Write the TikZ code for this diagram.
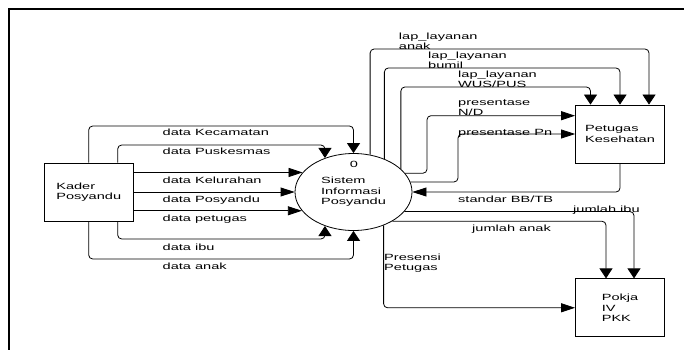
\documentclass[tikz,border=0pt]{standalone}
\usepackage{fontspec}
\setmainfont{Liberation Sans}[FakeStretch=1.62]
\usetikzlibrary{arrows.meta,positioning,shapes.geometric}
\tikzset{
  dfdbox/.style={draw,line width=0.8pt,minimum width=89pt,minimum height=58pt,inner sep=0pt,align=left},
  dfdproc/.style={draw,ellipse,line width=0.8pt,minimum width=117pt,minimum height=77pt,inner sep=0pt,align=left},
  dfdflowv/.style={-{Triangle[length=10pt,width=13pt]},line width=0.8pt,rounded corners=4pt},
  dfdflowh/.style={-{Triangle[length=14pt,width=9pt]},line width=0.8pt,rounded corners=4pt},
  dfdlabel/.style={anchor=base west,inner sep=0pt,align=left},
  dfdlabeltwo/.style={anchor=north west,inner sep=0pt,align=left},
}

\begin{document}
\begin{tikzpicture}[x=1pt,y=-1pt,font=\fontsize{9}{10.4}\selectfont]
\useasboundingbox (0,0) rectangle (687,350);
\draw[line width=1.8pt] (9,350) -- (9,9) -- (684,9);
% process and entities
\node[dfdproc] (sis) at (353.5,192) {Sistem\\Informasi\\Posyandu};
\node[inner sep=0pt] (nol) at (354,164) {0};
\node[dfdbox,left=161pt of sis] (kad) {Kader\\Posyandu};
\node[dfdbox] (pet) at (620,134) {Petugas\\Kesehatan};
\node[dfdbox,below=115pt of pet] (pok) {Pokja\\IV\\PKK};
% flows from Kader Posyandu
\draw[dfdflowv] (kad.north) |- (sis.north |- 0,126) -- (sis.north);
\draw[dfdflowv] ([xshift=29pt]kad.north) |- (sis.130 |- 0,145) -- (sis.130);
\draw[dfdflowh] (kad.east |- sis.159.5) -- (sis.159.5);
\draw[dfdflowh] (kad.east) -- (sis.west);
\draw[dfdflowh] (kad.east |- sis.200.5) -- (sis.200.5);
\draw[dfdflowv] ([xshift=29pt]kad.south) |- (sis.230 |- 0,239) -- (sis.230);
\draw[dfdflowv] (kad.south) |- (sis.south |- 0,259) -- (sis.south);
\node[dfdlabel] (lkec) at (162.5,135) {data Kecamatan};
\node[dfdlabel] (lpus) at (162.5,154) {data Puskesmas};
\node[dfdlabel] (lkel) at (162.5,183.3) {data Kelurahan};
\node[dfdlabel] (lpos) at (162.5,202.3) {data Posyandu};
\node[dfdlabel] (lpet) at (162.5,221.3) {data petugas};
\node[dfdlabel] (libu) at (162.5,250) {data ibu};
\node[dfdlabel] (lank) at (162.5,269) {data anak};
% flows to and from Petugas Kesehatan
\draw[dfdflowv] (sis.66.6) |- ([xshift=29pt]pet.north |- 0,49) -- ([xshift=29pt]pet.north);
\draw[dfdflowv] (sis.47.8) |- (pet.north |- 0,68) -- (pet.north);
\draw[dfdflowv] (sis.26.7) |- ([xshift=-29.5pt]pet.north |- 0,87) -- ([xshift=-29.5pt]pet.north);
\draw[dfdflowh] (sis.20.5) -| (427,115.7) -- (pet.west |- 0,115.7);
\draw[dfdflowh] (sis.10) -| (pet.west -| 458,0) -- (pet.west);
\draw[dfdflowh] (pet.south) |- (sis.east);
\node[dfdlabeltwo] (llan) at (398.7,32.4) {lap\_layanan\\anak};
\node[dfdlabeltwo] (llbu) at (428,51.7) {lap\_layanan\\bumil};
\node[dfdlabeltwo] (llwu) at (458,70.7) {lap\_layanan\\WUS/PUS};
\node[dfdlabeltwo] (lpnd) at (458,99.4) {presentase\\N/D};
\node[dfdlabel] (lppn) at (458,135.3) {presentase Pn};
\node[dfdlabel] (lstd) at (458,202.3) {standar BB/TB};
% flows to Pokja IV PKK
\draw[dfdflowv] (sis.339.5) -| ([xshift=14pt]pok.north);
\draw[dfdflowv] (sis.323) -| ([xshift=-14pt]pok.north);
\draw[dfdflowh] (sis.312.9) |- (pok.west);
\node[dfdlabel] (ljib) at (573,212.3) {jumlah ibu};
\node[dfdlabel] (ljan) at (472,231.3) {jumlah anak};
\node[dfdlabeltwo] (lpre) at (384,253.4) {Presensi\\Petugas};
\end{tikzpicture}
\end{document}
